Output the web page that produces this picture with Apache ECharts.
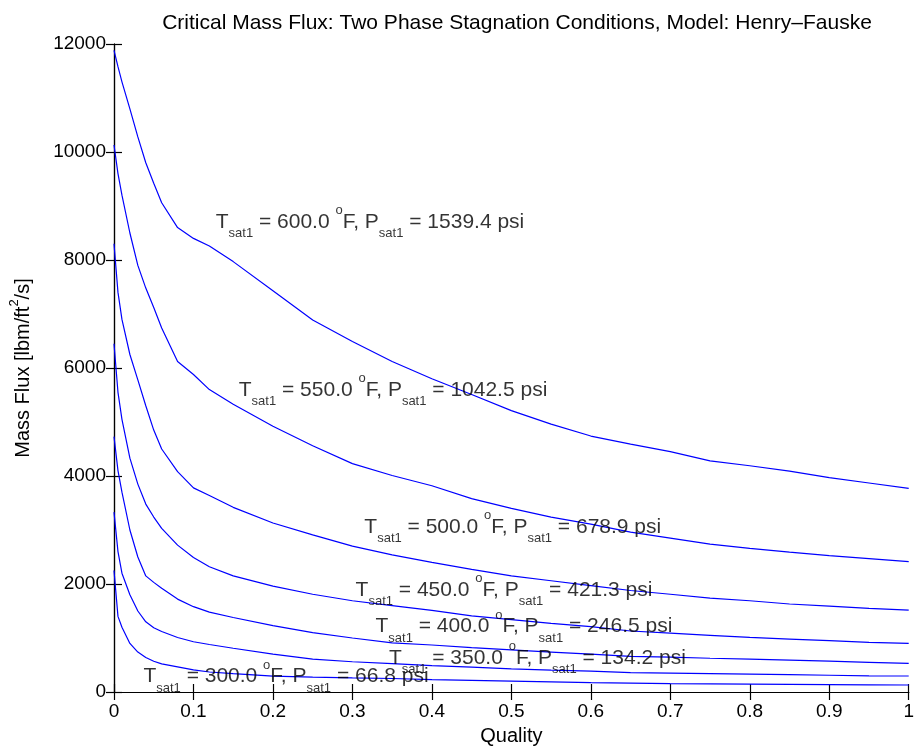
<!DOCTYPE html>
<html>
<head>
<meta charset="utf-8">
<script src="https://cdn.jsdelivr.net/npm/echarts@6/dist/echarts.min.js"></script>
<style>
html,body{margin:0;padding:0;background:#fff;}
#main{width:917px;height:751px;}
</style>
</head>
<body>
<div id="main"></div>
<script>
// ---- data ----
const quality = [0, 0.005, 0.01, 0.02, 0.03, 0.04, 0.05, 0.06, 0.08, 0.1, 0.12, 0.15, 0.2, 0.25, 0.3, 0.35, 0.4, 0.45, 0.5, 0.55, 0.6, 0.65, 0.7, 0.75, 0.8, 0.85, 0.9, 0.95, 1.0];
const flux600 = [11880, 11580, 11300, 10800, 10280, 9800, 9420, 9060, 8600, 8400, 8260, 7970, 7430, 6890, 6490, 6120, 5800, 5510, 5210, 4960, 4740, 4590, 4450, 4280, 4190, 4090, 3970, 3870, 3770];
const flux550 = [10130, 9600, 9200, 8500, 7900, 7480, 7120, 6740, 6120, 5880, 5600, 5330, 4920, 4560, 4230, 4010, 3820, 3580, 3400, 3240, 3110, 2960, 2850, 2740, 2660, 2590, 2525, 2470, 2413];
const flux500 = [8300, 7400, 6900, 6250, 5780, 5300, 4850, 4500, 4080, 3780, 3640, 3420, 3130, 2910, 2700, 2540, 2400, 2270, 2150, 2060, 1970, 1880, 1810, 1740, 1690, 1630, 1590, 1550, 1518];
const flux450 = [6450, 5550, 5050, 4330, 3850, 3480, 3240, 3030, 2720, 2490, 2320, 2150, 1960, 1810, 1690, 1600, 1510, 1410, 1340, 1270, 1210, 1130, 1090, 1050, 1010, 980, 950, 920, 901];
const flux400 = [4730, 4100, 3700, 3000, 2500, 2150, 2030, 1920, 1720, 1580, 1480, 1380, 1230, 1100, 1000, 910, 870, 820, 780, 740, 700, 660, 645, 625, 610, 590, 570, 550, 530];
const flux350 = [3330, 2600, 2200, 1800, 1500, 1300, 1190, 1120, 1010, 930, 880, 810, 700, 610, 560, 525, 490, 460, 430, 405, 385, 360, 350, 340, 330, 320, 310, 300, 296];
const flux300 = [2250, 1400, 1200, 900, 740, 640, 570, 520, 465, 410, 370, 340, 295, 275, 260, 250, 230, 215, 200, 188, 175, 165, 155, 150, 145, 140, 135, 132, 130];
const fluxSeries = [flux600, flux550, flux500, flux450, flux400, flux350, flux300];
const tempLabels = ['600.0', '550.0', '500.0', '450.0', '400.0', '350.0', '300.0'];
const pressLabels = ['1539.4', '1042.5', '678.9', '421.3', '246.5', '134.2', '66.8'];
// annotation anchor (quality, mass flux) for each label
const labelQuality = [0.128, 0.157, 0.315, 0.304, 0.329, 0.346, 0.037];
const labelFlux = [8700, 5593, 3050, 1889, 1210, 623, 284];
const xTicks = [0, 0.1, 0.2, 0.3, 0.4, 0.5, 0.6, 0.7, 0.8, 0.9, 1];
const yTicks = [0, 2000, 4000, 6000, 8000, 10000, 12000];

const FONT = '"Liberation Sans", Arial, Helvetica, sans-serif';
const chart = echarts.init(document.getElementById('main'), null, {renderer: 'canvas'});

const lineSeries = fluxSeries.map((arr, i) => ({
  type: 'line',
  name: 'T' + tempLabels[i],
  data: quality.map((q, j) => [q, arr[j]]),
  showSymbol: false,
  symbol: 'none',
  smooth: false,
  lineStyle: {color: '#0000ff', width: 1.2},
  itemStyle: {color: '#0000ff'},
  silent: true,
  animation: false,
  z: 3
}));

const labelSeries = {
  type: 'scatter',
  symbolSize: 0,
  silent: true,
  animation: false,
  z: 5,
  data: labelQuality.map((q, i) => ({
    value: [q, labelFlux[i]],
    label: {
      show: true,
      position: 'right',
      distance: 0,
      formatter: '{n|T}{s|sat1}{n| = ' + tempLabels[i] + ' }{o|o}{n|F, P}{s|sat1}{n| = ' + pressLabels[i] + ' psi}',
      rich: {
        n: {fontSize: 21, fontFamily: FONT, color: '#000', lineHeight: 36, verticalAlign: 'middle'},
        s: {fontSize: 13, fontFamily: FONT, color: '#000', lineHeight: 36, verticalAlign: 'bottom'},
        o: {fontSize: 13, fontFamily: FONT, color: '#000', lineHeight: 36, verticalAlign: 'top'}
      }
    }
  }))
};

const axisCommon = {
  axisLine: {show: true, lineStyle: {color: '#000', width: 1.2}},
  axisTick: {show: true, inside: true, length: 8, lineStyle: {color: '#000', width: 1.2}},
  splitLine: {show: false}
};

const option = {
  backgroundColor: '#fff',
  animation: false,
  title: {
    text: 'Critical Mass Flux: Two Phase Stagnation Conditions, Model: Henry\u2013Fauske',
    left: 512,
    top: 8,
    textAlign: 'center',
    textStyle: {fontFamily: FONT, fontSize: 21, fontWeight: 'normal', color: '#000'}
  },
  grid: {left: 110, right: 2, top: 44, bottom: 59, containLabel: false},
  xAxis: [
    Object.assign({
      type: 'value', min: 0, max: 1, interval: 0.1, position: 'bottom',
      name: 'Quality', nameLocation: 'middle', nameGap: 34,
      nameTextStyle: {fontFamily: FONT, fontSize: 20, color: '#000'},
      axisLabel: {
        fontFamily: FONT, fontSize: 19, color: '#000', margin: 10,
        formatter: v => {
          const r = Math.round(v * 10) / 10;
          return xTicks.indexOf(r) >= 0 ? String(r) : '';
        }
      }
    }, axisCommon),
    Object.assign({
      type: 'value', min: 0, max: 1, interval: 0.1, position: 'top',
      axisLabel: {show: false}
    }, axisCommon)
  ],
  yAxis: [
    Object.assign({
      type: 'value', min: 0, max: 12000, interval: 2000, position: 'left',
      name: 'Mass Flux [lbm/ft{sup|2}/s]', nameLocation: 'middle', nameGap: 76,
      nameTextStyle: {
        fontFamily: FONT, fontSize: 20, color: '#000',
        rich: {sup: {fontSize: 13, fontFamily: FONT, color: '#000', verticalAlign: 'top', lineHeight: 30}}
      },
      axisLabel: {
        fontFamily: FONT, fontSize: 19, color: '#000', margin: 8,
        formatter: v => (yTicks.indexOf(v) >= 0 ? String(v) : '')
      }
    }, axisCommon),
    Object.assign({
      type: 'value', min: 0, max: 12000, interval: 2000, position: 'right',
      axisLabel: {show: false}
    }, axisCommon)
  ],
  series: lineSeries.concat([labelSeries])
};
chart.setOption(option);
</script>
</body>
</html>
